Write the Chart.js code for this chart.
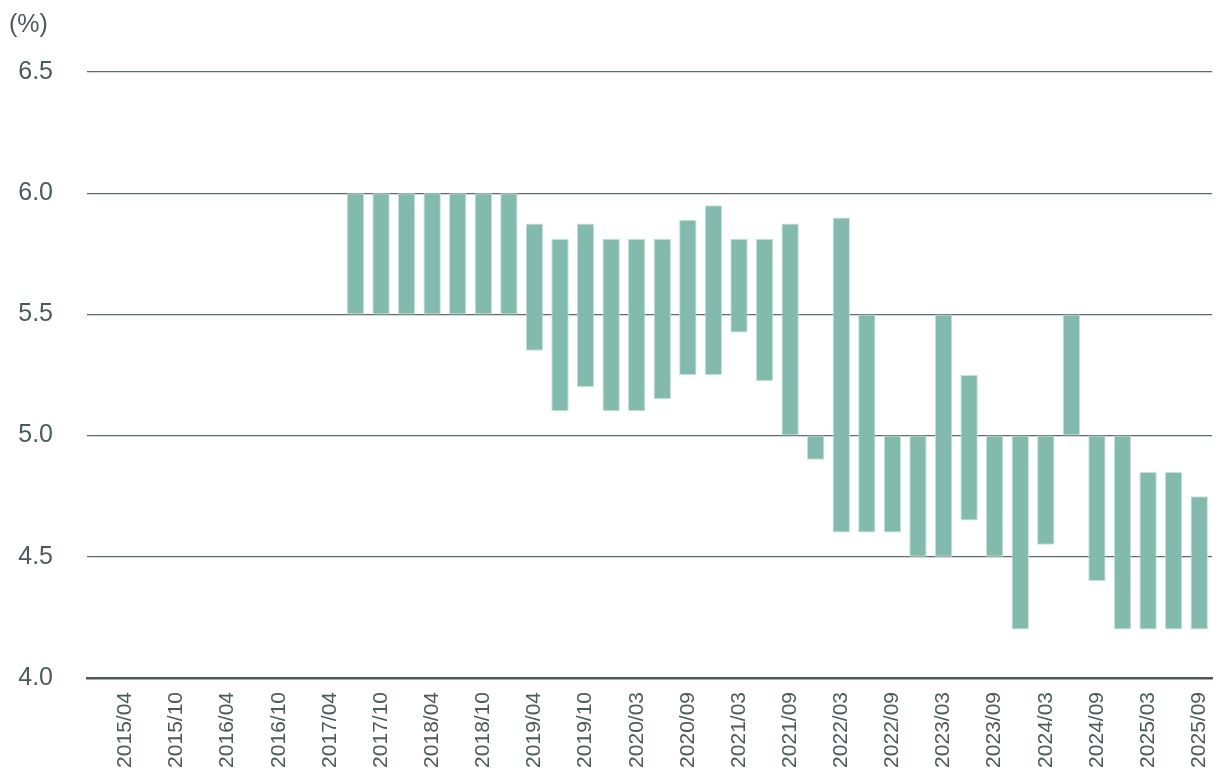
<!DOCTYPE html>
<html>
<head>
<meta charset="utf-8">
<script src="https://cdn.jsdelivr.net/npm/chart.js@4/dist/chart.umd.min.js"></script>
<style>
  html, body { margin: 0; padding: 0; background: #ffffff; }
  #wrap { width: 1224px; height: 774px; position: relative; }
</style>
</head>
<body>
<div id="wrap"><canvas id="c"></canvas></div>
<script>
const categories = [
  "2015/01","2015/04","2015/07","2015/10","2016/01","2016/04","2016/07","2016/10",
  "2017/01","2017/04","2017/07","2017/10","2018/01","2018/04","2018/07","2018/10",
  "2019/01","2019/04","2019/07","2019/10","2020/01","2020/03","2020/06","2020/09",
  "2020/12","2021/03","2021/06","2021/09","2021/12","2022/03","2022/06","2022/09",
  "2022/12","2023/03","2023/06","2023/09","2023/12","2024/03","2024/06","2024/09",
  "2024/12","2025/03","2025/06","2025/09"
];
const lowValues = [
  null,null,null,null,null,null,null,null,null,null,
  5.5,5.5,5.5,5.5,5.5,5.5,5.5,
  5.35,5.1,5.2,5.1,5.1,5.15,5.25,5.25,5.425,5.225,5.0,
  4.9,4.6,4.6,4.6,4.5,4.5,4.65,4.5,4.2,4.55,5.0,4.4,4.2,4.2,4.2,4.2
];
const highValues = [
  null,null,null,null,null,null,null,null,null,null,
  6.0,6.0,6.0,6.0,6.0,6.0,6.0,
  5.875,5.8125,5.875,5.8125,5.8125,5.8125,5.89,5.95,5.8125,5.8125,5.875,
  5.0,5.9,5.5,5.0,5.0,5.5,5.25,5.0,5.0,5.0,5.5,5.0,5.0,4.85,4.85,4.75
];
const yTicks = [4.0, 4.5, 5.0, 5.5, 6.0, 6.5];
const unitLabel = "(%)";

const rangeData = categories.map((c, i) =>
  (lowValues[i] === null || highValues[i] === null) ? null : [lowValues[i], highValues[i]]
);

const textColor = "#4b5a5c";
const gridColor = "#5d6a6b";

const unitPlugin = {
  id: "unitLabel",
  afterDraw(chart) {
    const ctx = chart.ctx;
    ctx.save();
    ctx.fillStyle = textColor;
    ctx.font = "25px 'Liberation Sans', Arial, sans-serif";
    ctx.textAlign = "left";
    ctx.textBaseline = "middle";
    ctx.fillText(unitLabel, 9, 25);
    ctx.restore();
  }
};

new Chart(document.getElementById("c"), {
  type: "bar",
  data: {
    labels: categories,
    datasets: [{
      data: rangeData,
      backgroundColor: "#82bbad",
      borderColor: "#c4e2da",
      borderWidth: 1,
      borderSkipped: false,
      categoryPercentage: 1.0,
      barPercentage: 0.68
    }]
  },
  options: {
    responsive: true,
    maintainAspectRatio: false,
    animation: false,
    layout: { padding: { top: 72, right: 12, bottom: 0, left: 0 } },
    plugins: {
      legend: { display: false },
      tooltip: { enabled: false },
      title: { display: false }
    },
    scales: {
      x: {
        afterFit: (axis) => { axis.paddingRight = 0; axis.paddingLeft = 0; axis.height = 96; },
        grid: { display: false, drawTicks: false },
        border: { display: true, color: "#4d5a5c", width: 2.5 },
        ticks: {
          autoSkip: false,
          maxRotation: 90,
          minRotation: 90,
          padding: 14,
          color: textColor,
          font: { family: "'Liberation Sans', Arial, sans-serif", size: 21 },
          callback: function(value, index) {
            return index % 2 === 1 ? categories[index] : "";
          }
        }
      },
      y: {
        min: 4.0,
        max: 6.5,
        afterBuildTicks: (axis) => { axis.ticks = yTicks.map(v => ({ value: v })); },
        afterFit: (axis) => { axis.width = 87; },
        grid: { color: gridColor, lineWidth: 1.2, drawTicks: false },
        border: { display: false },
        ticks: {
          padding: 34,
          color: textColor,
          font: { family: "'Liberation Sans', Arial, sans-serif", size: 25 },
          callback: (v) => Number(v).toFixed(1)
        }
      }
    }
  },
  plugins: [unitPlugin]
});
</script>
</body>
</html>
